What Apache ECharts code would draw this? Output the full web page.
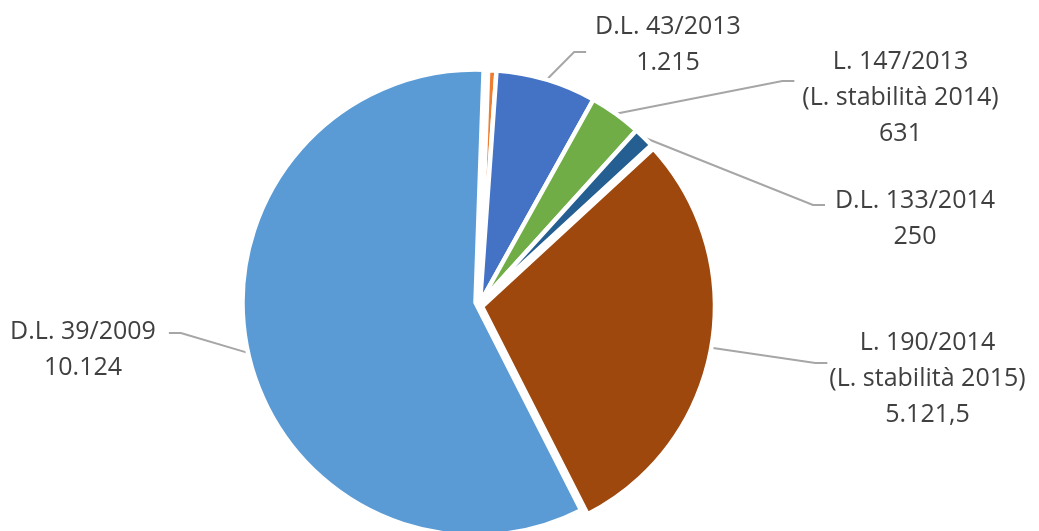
<!DOCTYPE html>
<html><head><meta charset="utf-8">
<script src="https://cdn.jsdelivr.net/npm/echarts@6/dist/echarts.min.js"></script>
<style>html,body{margin:0;padding:0;background:#fff}#c{width:1039px;height:531px}</style>
</head><body><div id="c"></div>
<script>
// Data (clockwise from 12 o'clock)
const names = ['', 'D.L. 43/2013', 'L. 147/2013\n(L. stabilità 2014)', 'D.L. 133/2014', 'L. 190/2014\n(L. stabilità 2015)', 'D.L. 39/2009'];
const values = [100, 1215, 631, 250, 5121.5, 10124];
const valueLabels = ['', '1.215', '631', '250', '5.121,5', '10.124'];

// Styling / layout (not data)
const colors = ['#ED7D31', '#4472C4', '#70AD47', '#255E91', '#9E480E', '#5B9BD5'];
const labelCenters = [null, [668, 44.5], [900.5, 98], [915, 218.5], [927.5, 378.5], [83, 349.5]];
const leaderDy = [0, 7.5, -17, -13.5, -15.5, -16.5];
const leaderGap = [0, 9, 8, 10, 2, 13];
const BASE = [480, 303];

function labelLayout(p) {
  const i = p.dataIndex;
  const c = labelCenters[i];
  if (!c) return {};
  const w = p.labelRect.width;
  const right = c[0] > BASE[0];
  const ex = right ? c[0] - w / 2 - leaderGap[i] : c[0] + w / 2 + leaderGap[i];
  const ey = c[1] + leaderDy[i];
  const p0 = p.labelLinePoints ? p.labelLinePoints[0] : [ex, ey];
  return {
    x: c[0], y: c[1], align: 'center', verticalAlign: 'middle',
    labelLinePoints: [p0, [ex + (right ? -12 : 12), ey], [ex, ey]]
  };
}

function makeSeries(center, shown) {
  return {
    type: 'pie',
    center: center,
    radius: 233,
    startAngle: 88,
    clockwise: true,
    silent: true,
    avoidLabelOverlap: false,
    itemStyle: {borderColor: '#fff', borderWidth: 4.5},
    emphasis: {disabled: true},
    label: {
      position: 'outside',
      formatter: p => names[p.dataIndex] + '\n' + valueLabels[p.dataIndex],
      fontFamily: 'Open Sans',
      fontSize: 25,
      lineHeight: 36,
      color: '#404040'
    },
    labelLine: {show: true, length: 20, length2: 10, lineStyle: {color: '#A6A6A6', width: 2}},
    labelLayout: labelLayout,
    data: values.map((v, i) => {
      const vis = shown.indexOf(i) >= 0;
      return {
        value: v,
        name: names[i] || 'n' + i,
        itemStyle: vis ? {color: colors[i]} : {color: 'rgba(0,0,0,0)', borderWidth: 0},
        label: {show: vis && i > 0},
        labelLine: {show: vis && i > 0}
      };
    })
  };
}

const chart = echarts.init(document.getElementById('c'), null, {renderer: 'canvas'});
chart.setOption({
  animation: false,
  backgroundColor: '#fff',
  series: [
    makeSeries(BASE, [0, 1, 2, 3]),
    makeSeries([482, 306.5], [4]),
    makeSeries([475.5, 302.5], [5])
  ]
});
</script>
</body></html>
